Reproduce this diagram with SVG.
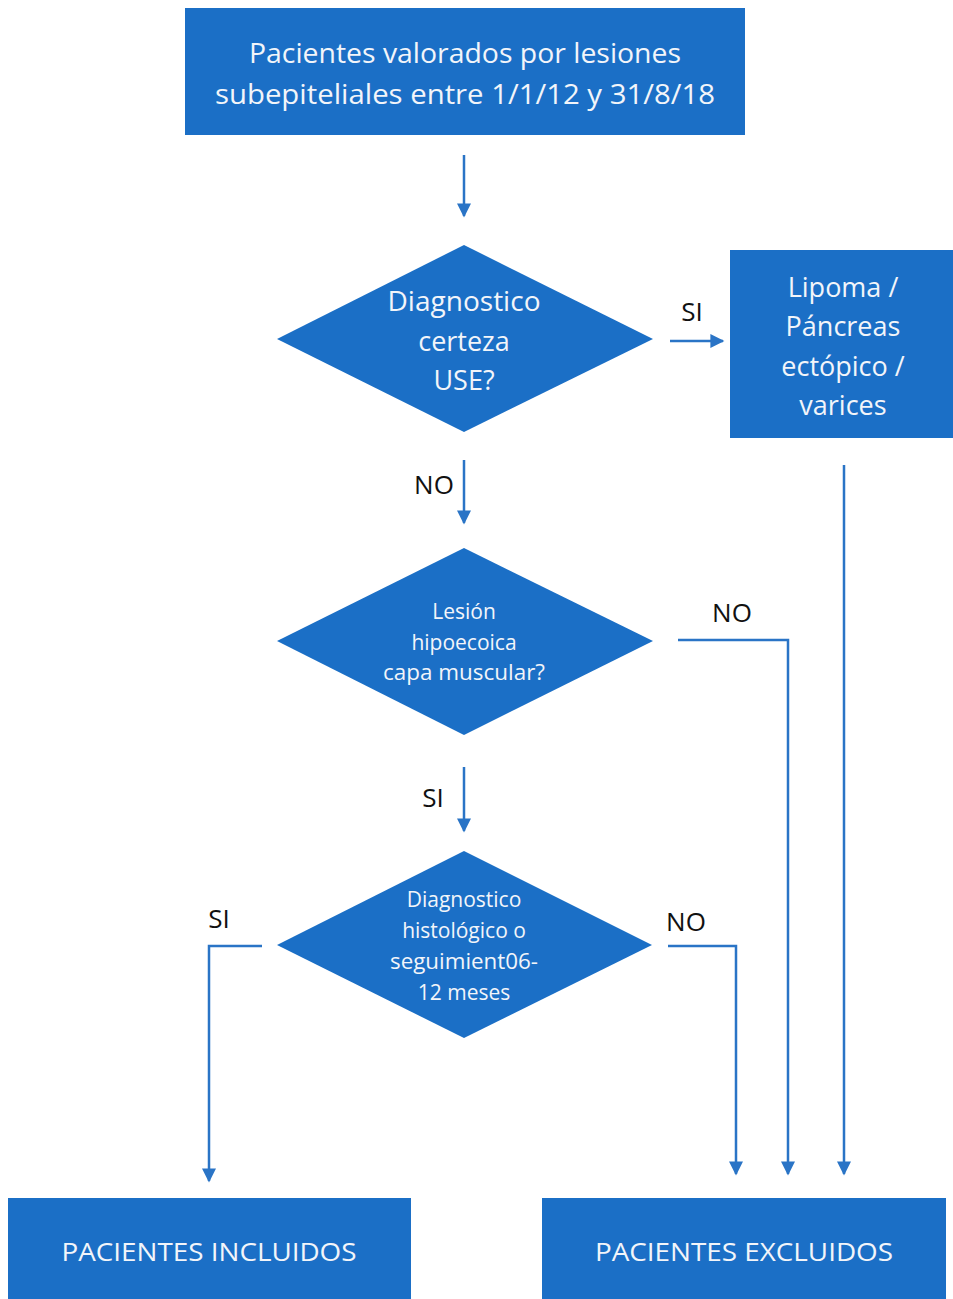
<svg xmlns="http://www.w3.org/2000/svg" width="953" height="1299" viewBox="0 0 953 1299">
<style>
.box{fill:#1b6fc6}
.t{font-family:"Open Sans","Noto Sans",sans-serif;fill:#f2f5fa;text-anchor:middle;dominant-baseline:central}
.lbl{font-family:"Open Sans","Noto Sans",sans-serif;fill:#111;text-anchor:middle;dominant-baseline:central;font-size:26px}
.c{fill:none;stroke:#2a74c6;stroke-width:2.5}
</style>
<defs>
<marker id="ah" viewBox="0 0 10 10" refX="9" refY="5" markerWidth="6" markerHeight="5.6" markerUnits="strokeWidth" orient="auto">
<path d="M0,0 L10,5 L0,10 z" fill="#2a74c6"/>
</marker>
</defs>
<rect width="953" height="1299" fill="#fff"/>
<g id="n-start">
<rect class="box" x="185" y="8" width="560" height="127"/>
<text class="t" x="465" y="52" font-size="28" textLength="432" lengthAdjust="spacingAndGlyphs">Pacientes valorados por lesiones</text>
<text class="t" x="465" y="93" font-size="28" textLength="500" lengthAdjust="spacingAndGlyphs">subepiteliales entre 1/1/12 y 31/8/18</text>
</g>
<g id="n-d1">
<polygon class="box" points="464,245 653,339 464,432 277,339"/>
<text class="t" x="464" y="300" font-size="27" textLength="153" lengthAdjust="spacingAndGlyphs">Diagnostico</text>
<text class="t" x="464" y="340" font-size="27">certeza</text>
<text class="t" x="464" y="379" font-size="27">USE?</text>
</g>
<g id="n-lipoma">
<rect class="box" x="730" y="250" width="223" height="188"/>
<text class="t" x="843" y="286" font-size="27">Lipoma /</text>
<text class="t" x="843" y="325" font-size="27">Páncreas</text>
<text class="t" x="843" y="365" font-size="27">ectópico /</text>
<text class="t" x="843" y="404" font-size="27">varices</text>
</g>
<g id="n-d2">
<polygon class="box" points="464,548 653,641 464,735 277,641"/>
<text class="t" x="464" y="611" font-size="21">Lesión</text>
<text class="t" x="464" y="642" font-size="21">hipoecoica</text>
<text class="t" x="464" y="672" font-size="21" textLength="162" lengthAdjust="spacingAndGlyphs">capa muscular?</text>
</g>
<g id="n-d3">
<polygon class="box" points="464,851 652,945 464,1038 277,945"/>
<text class="t" x="464" y="899" font-size="21">Diagnostico</text>
<text class="t" x="464" y="930" font-size="21">histológico o</text>
<text class="t" x="464" y="961" font-size="21" textLength="148" lengthAdjust="spacingAndGlyphs">seguimient06-</text>
<text class="t" x="464" y="992" font-size="21">12 meses</text>
</g>
<g id="n-incl">
<rect class="box" x="8" y="1198" width="403" height="101"/>
<text class="t" x="209" y="1251" font-size="26" textLength="295" lengthAdjust="spacingAndGlyphs">PACIENTES INCLUIDOS</text>
</g>
<g id="n-excl">
<rect class="box" x="542" y="1198" width="404" height="101"/>
<text class="t" x="744" y="1251" font-size="26" textLength="298" lengthAdjust="spacingAndGlyphs">PACIENTES EXCLUIDOS</text>
</g>
<g id="connectors">
<path class="c" d="M464,155 V216" marker-end="url(#ah)"/>
<path class="c" d="M670,341 H723" marker-end="url(#ah)"/>
<path class="c" d="M464,460 V523" marker-end="url(#ah)"/>
<path class="c" d="M844,465 V1174" marker-end="url(#ah)"/>
<path class="c" d="M678,640 H788 V1174" marker-end="url(#ah)"/>
<path class="c" d="M464,767 V831" marker-end="url(#ah)"/>
<path class="c" d="M262,946 H209 V1181" marker-end="url(#ah)"/>
<path class="c" d="M668,946 H736 V1174" marker-end="url(#ah)"/>
</g>
<g id="labels">
<text class="lbl" x="692" y="311">SI</text>
<text class="lbl" x="434" y="484">NO</text>
<text class="lbl" x="732" y="612">NO</text>
<text class="lbl" x="433" y="797">SI</text>
<text class="lbl" x="219" y="918">SI</text>
<text class="lbl" x="686" y="921">NO</text>
</g>
</svg>
